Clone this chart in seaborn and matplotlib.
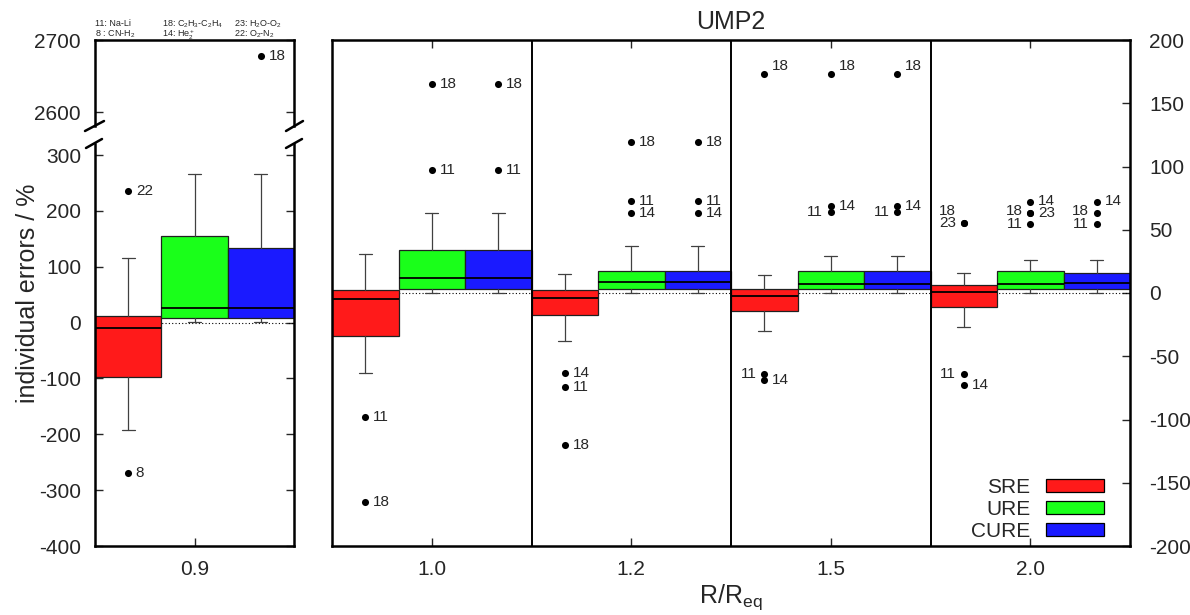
import matplotlib
matplotlib.use("Agg")
import matplotlib.pyplot as plt
from matplotlib.patches import Patch
from matplotlib.lines import Line2D
import pandas as pd
import seaborn as sns

# ---------------------------------------------------------------- data
ratios = ["0.9", "1.0", "1.2", "1.5", "2.0"]
methods = ["SRE", "URE", "CURE"]

# box statistics, one entry per R/Req
sre_whislo = [-193, -63, -38, -30, -27]
sre_q1 = [-97, -34, -17, -14, -11]
sre_med = [-9, -5, -4, -2, 1]
sre_q3 = [12, 2, 2, 3.5, 6]
sre_whishi = [115, 31, 15, 14, 16]

ure_whislo = [1, 0, 0, 0, 0]
ure_q1 = [9, 3, 3, 3, 3]
ure_med = [27, 12, 9, 7, 7]
ure_q3 = [155, 34, 17, 17, 17]
ure_whishi = [266, 63, 37, 29, 26]

cure_whislo = [1, 0, 0, 0, 0]
cure_q1 = [9, 3, 3, 3, 3]
cure_med = [27, 12, 9, 7, 8]
cure_q3 = [133, 34, 17, 17, 16]
cure_whishi = [266, 63, 37, 29, 26]

# outlying systems
out_ratio = ["0.9", "0.9", "0.9",
             "1.0", "1.0", "1.0", "1.0", "1.0", "1.0",
             "1.2", "1.2", "1.2", "1.2", "1.2", "1.2", "1.2", "1.2", "1.2",
             "1.5", "1.5", "1.5", "1.5", "1.5", "1.5", "1.5", "1.5", "1.5",
             "2.0", "2.0", "2.0", "2.0", "2.0", "2.0", "2.0", "2.0",
             "2.0", "2.0", "2.0"]
out_method = ["SRE", "SRE", "CURE",
              "SRE", "SRE", "URE", "URE", "CURE", "CURE",
              "SRE", "SRE", "SRE", "URE", "URE", "URE", "CURE", "CURE", "CURE",
              "SRE", "SRE", "SRE", "URE", "URE", "URE", "CURE", "CURE", "CURE",
              "SRE", "SRE", "SRE", "SRE", "URE", "URE", "URE", "URE",
              "CURE", "CURE", "CURE"]
out_value = [235, -269, 2678,
             -98, -165, 165, 97, 165, 97,
             -63, -74, -120, 119.5, 73, 63, 119.5, 73, 63,
             173, -64, -69, 173, 69, 64, 173, 69, 64,
             55, 55, -64, -72.5, 72, 63.6, 63.6, 54.6,
             72, 63.6, 54.6]
out_id = ["22", "8", "18",
          "11", "18", "18", "11", "18", "11",
          "14", "11", "18", "18", "11", "14", "18", "11", "14",
          "18", "11", "14", "18", "14", "11", "18", "14", "11",
          "23", "18", "11", "14", "14", "18", "23", "11",
          "14", "18", "11"]

legend_note = [("11: Na-Li", "8 : CN-H$_2$"),
               ("18: C$_2$H$_3$-C$_2$H$_4$", "14: He$_2^+$"),
               ("23: H$_2$O-O$_2$", "22: O$_2$-N$_2$")]

# ---------------------------------------------------------------- style
sns.set_theme(style="ticks")
plt.rcParams.update({
    "font.family": ["Liberation Sans", "DejaVu Sans"],
    "mathtext.fontset": "custom",
    "mathtext.rm": "Liberation Sans",
    "mathtext.it": "Liberation Sans:italic",
    "mathtext.bf": "Liberation Sans:bold",
    "axes.unicode_minus": False,
    "axes.linewidth": 1.8,
    "axes.edgecolor": "black",
})

colors = {"SRE": "#ff1a1a", "URE": "#1aff1a", "CURE": "#1a1aff"}
stats = {
    "SRE": (sre_whislo, sre_q1, sre_med, sre_q3, sre_whishi),
    "URE": (ure_whislo, ure_q1, ure_med, ure_q3, ure_whishi),
    "CURE": (cure_whislo, cure_q1, cure_med, cure_q3, cure_whishi),
}

# label placement for crowded outliers: (ratio, method, id) -> (side, raise in pt)
label_place = {
    ("1.5", "SRE", "18"): ("right", 6), ("1.5", "URE", "18"): ("right", 6),
    ("1.5", "CURE", "18"): ("right", 6),
    ("1.5", "SRE", "11"): ("left", 0), ("1.5", "URE", "11"): ("left", 0),
    ("1.5", "CURE", "11"): ("left", 0),
    ("2.0", "SRE", "11"): ("left", 0), ("2.0", "SRE", "23"): ("left", 0),
    ("2.0", "SRE", "18"): ("left", 9),
    ("2.0", "URE", "18"): ("left", 1.2), ("2.0", "URE", "11"): ("left", 0),
    ("2.0", "CURE", "18"): ("left", 1.2), ("2.0", "CURE", "11"): ("left", 0),
    ("2.0", "URE", "14"): ("right", 0.8), ("2.0", "CURE", "14"): ("right", 0.8),
}

W, H = 1190, 615
fig = plt.figure(figsize=(W / 100, H / 100), dpi=100)


def rect(x0, y0, x1, y1):
    return [x0 / W, 1 - y1 / H, (x1 - x0) / W, (y1 - y0) / H]


ax_top = fig.add_axes(rect(95, 40, 294, 126))
ax_low = fig.add_axes(rect(95, 144, 294, 546))
ax_r = fig.add_axes(rect(332, 40, 1130, 546))

width = 1 / 3
out = pd.DataFrame({"ratio": out_ratio, "method": out_method,
                    "value": out_value, "id": out_id})


def draw_group(ax, sel):
    """Boxes and outliers for the R/Req values in sel, placed at 0, 1, ..."""
    ax.axhline(0, color="black", lw=0.8, ls=(0, (1, 2)), zorder=1)
    for g, r in enumerate(sel):
        i = ratios.index(r)
        for k, m in enumerate(methods):
            lo, q1, md, q3, hi = (s[i] for s in stats[m])
            ax.bxp([dict(whislo=lo, q1=q1, med=md, q3=q3, whishi=hi, fliers=[])],
                   positions=[g + (k - 1) * width], widths=width, capwidths=0.065,
                   patch_artist=True, showfliers=False, manage_ticks=False,
                   boxprops=dict(facecolor=colors[m], edgecolor="#202020", linewidth=0.9),
                   medianprops=dict(color="black", linewidth=1.3),
                   whiskerprops=dict(color="#404040", linewidth=0.9),
                   capprops=dict(color="#404040", linewidth=0.9), zorder=2)
    sub = out[out["ratio"].isin(sel)].copy()
    sub["x"] = [sel.index(r) + (methods.index(m) - 1) * width
                for r, m in zip(sub["ratio"], sub["method"])]
    sns.scatterplot(data=sub, x="x", y="value", color="black", s=26,
                    linewidth=0, ax=ax, legend=False, zorder=4)
    lo, hi = ax.get_ylim()
    for _, row in sub.iterrows():
        if not (lo <= row["value"] <= hi):
            continue
        side, dy = label_place.get((row["ratio"], row["method"], row["id"]), ("right", 0))
        dx = 5.5 if side == "right" else -5.5
        ax.annotate(row["id"], (row["x"], row["value"]), xytext=(dx, dy),
                    textcoords="offset points", ha="left" if side == "right" else "right",
                    va="center", fontsize=11, zorder=5)
    ax.set_xlabel("")
    ax.set_ylabel("")


# ------------------------------------------------------------ left panel
for ax, ylim in ((ax_top, (2581, 2700)), (ax_low, (-400, 320))):
    ax.set_xlim(-0.5, 0.5)
    ax.set_ylim(*ylim)
    draw_group(ax, ["0.9"])
    ax.set_xlim(-0.5, 0.5)
    ax.set_ylim(*ylim)
    ax.tick_params(axis="y", direction="in", left=True, right=True, length=6,
                   width=1, labelsize=15, pad=10)

ax_top.set_yticks([2600, 2700])
ax_top.set_xticks([])
ax_top.spines["bottom"].set_visible(False)

ax_low.set_yticks(range(-400, 301, 100))
ax_low.set_xticks([0])
ax_low.set_xticklabels(["0.9"])
ax_low.tick_params(axis="x", direction="in", bottom=True, top=False, length=6,
                   width=1, labelsize=15, pad=10)
ax_low.spines["top"].set_visible(False)

# broken-axis marks
for (x0, y0, x1, y1) in [(85, 131, 104, 121), (286, 131, 303, 121),
                         (86, 148, 102, 139), (286, 148, 302, 139)]:
    fig.add_artist(Line2D([x0 / W, x1 / W], [1 - y0 / H, 1 - y1 / H],
                          transform=fig.transFigure, color="black", lw=1.8))

# system key above the left panel
for j, (a, b) in enumerate(legend_note):
    x = [95, 162, 234][j] / W
    fig.text(x, 1 - 26 / H, a, fontsize=6.5, ha="left", va="baseline")
    fig.text(x, 1 - 37 / H, b, fontsize=6.5, ha="left", va="baseline")

# ----------------------------------------------------------- right panel
sel = ratios[1:]
ax_r.set_xlim(-0.5, 3.5)
ax_r.set_ylim(-200, 200)
draw_group(ax_r, sel)
ax_r.set_xlim(-0.5, 3.5)
ax_r.set_ylim(-200, 200)
for xs in (0.5, 1.5, 2.5):
    ax_r.axvline(xs, color="black", lw=1.4, zorder=3)
ax_r.set_xticks(range(len(sel)))
ax_r.set_xticklabels(sel)
ax_r.tick_params(axis="x", direction="in", bottom=True, top=True, length=6,
                 width=1, labelsize=15, pad=10)
ax_r.set_yticks(range(-200, 201, 50))
ax_r.yaxis.tick_right()
ax_r.tick_params(axis="y", direction="in", left=False, right=True, labelleft=False,
                 labelright=True, length=6, width=1, labelsize=15, pad=14)

handles = [Patch(facecolor=colors[m], edgecolor="black", linewidth=0.9) for m in methods]
ax_r.legend(handles, methods, loc="lower right", bbox_to_anchor=(0.968, 0.01),
            frameon=False, markerfirst=False, fontsize=15, handlelength=2.8,
            handleheight=0.55, handletextpad=0.75, labelspacing=0.15, borderpad=0,
            borderaxespad=0)

fig.text(731 / W, 1 - 22 / H, "UMP2", ha="center", va="center", fontsize=18)
fig.text(28 / W, 1 - 293 / H, "individual errors / %", rotation=90,
         ha="center", va="center", fontsize=18)
fig.text(731 / W, 12 / H, r"R/R$_{\mathrm{eq}}$", ha="center", va="baseline",
         fontsize=18)

fig.savefig("out.png", dpi=100)
